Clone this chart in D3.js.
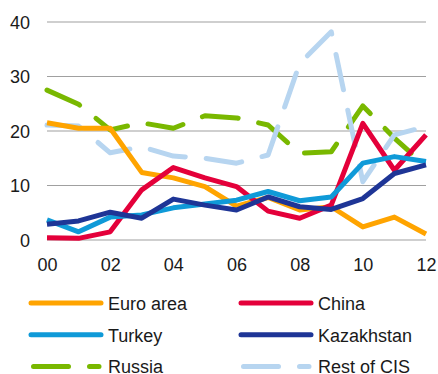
<!DOCTYPE html>
<html>
<head>
<meta charset="utf-8">
<script src="https://cdn.jsdelivr.net/npm/d3@7"></script>
<style>
  html, body { margin: 0; padding: 0; background: #fff; }
  svg { display: block; font-family: "Liberation Sans", Arial, sans-serif; }
</style>
</head>
<body>
<svg id="chart" width="438" height="374"></svg>
<script>
// Years 2000–2012
const years = [2000, 2001, 2002, 2003, 2004, 2005, 2006, 2007, 2008, 2009, 2010, 2011, 2012];
const xTickLabels = ["00", "02", "04", "06", "08", "10", "12"];
const yTicks = [0, 10, 20, 30, 40];

// Series values (per cent)
const euroArea   = [21.5, 20.5, 20.5, 12.4, 11.4, 9.8, 6.2, 7.8, 5.5, 6.1, 2.4, 4.2, 1.1];
const china      = [0.4, 0.3, 1.5, 9.2, 13.3, 11.4, 9.8, 5.3, 4.0, 6.4, 21.4, 12.8, 19.3];
const turkey     = [3.7, 1.5, 4.2, 4.6, 5.9, 6.6, 7.3, 8.9, 7.2, 7.9, 14.1, 15.3, 14.4];
const kazakhstan = [2.9, 3.5, 5.1, 4.0, 7.5, 6.4, 5.5, 7.9, 6.1, 5.6, 7.6, 12.2, 13.8];
const russia     = [27.5, 24.9, 20.2, 21.5, 20.5, 22.8, 22.4, 21.1, 15.9, 16.2, 24.6, 18.7, 13.5];
const restOfCIS  = [21.1, 20.9, 16.0, 17.1, 15.4, 15.0, 14.1, 15.6, 32.4, 38.2, 10.7, 19.3, 20.8];

const seriesNames  = ["Euro area", "China", "Turkey", "Kazakhstan", "Russia", "Rest of CIS"];
const seriesValues = [euroArea, china, turkey, kazakhstan, russia, restOfCIS];
const seriesColors = ["#FFA400", "#E4003A", "#0F9AD8", "#1E3596", "#79B800", "#B7D5F0"];
const seriesDashed = [false, false, false, false, true, true];

const svg = d3.select("#chart");
const x = d3.scaleLinear().domain([2000, 2012]).range([47, 426]);
const y = d3.scaleLinear().domain([0, 40]).range([240, 22]);

// Horizontal gridlines
svg.append("g")
  .selectAll("line")
  .data(yTicks)
  .join("line")
  .attr("x1", 47).attr("x2", 426)
  .attr("y1", d => y(d)).attr("y2", d => y(d))
  .attr("stroke", "#a0a0a0").attr("stroke-width", 1.2);

// Y axis labels
const yAxis = d3.axisLeft(y).tickValues(yTicks).tickSize(0).tickPadding(0).tickFormat(d3.format("d"));
const gy = svg.append("g").attr("transform", "translate(30,0)").call(yAxis);
gy.select(".domain").remove();
gy.selectAll("text").attr("font-size", 18).attr("fill", "#1a1a1a")
  .attr("font-family", "'Liberation Sans', Arial, sans-serif").attr("dy", "0.36em");

// X axis labels
const xAxis = d3.axisBottom(x).tickValues(d3.range(2000, 2013, 2)).tickSize(0).tickPadding(0)
  .tickFormat((d, i) => xTickLabels[i]);
const gx = svg.append("g").attr("transform", "translate(0,258)").call(xAxis);
gx.select(".domain").remove();
gx.selectAll("text").attr("font-size", 18).attr("fill", "#1a1a1a")
  .attr("font-family", "'Liberation Sans', Arial, sans-serif").attr("dy", "0.72em");

// Lines
const line = d3.line().x((d, i) => x(years[i])).y(d => y(d));
const order = [4, 5, 0, 1, 2, 3];
svg.append("g")
  .selectAll("path")
  .data(order)
  .join("path")
  .attr("d", k => line(seriesValues[k]))
  .attr("fill", "none")
  .attr("stroke", k => seriesColors[k])
  .attr("stroke-width", 5)
  .attr("stroke-linejoin", "round")
  .attr("stroke-linecap", k => seriesDashed[k] ? "round" : "butt")
  .attr("stroke-dasharray", k => seriesDashed[k] ? "36 21" : null);

// Legend, two columns by three rows
const legend = svg.append("g");
const legendItems = legend.selectAll("g")
  .data(seriesNames.map((n, i) => i))
  .join("g")
  .attr("transform", i => `translate(${i % 2 === 0 ? 31 : 241},${303 + Math.floor(i / 2) * 31.7})`);
legendItems.append("line")
  .attr("x1", i => seriesDashed[i] ? 2.5 : 0)
  .attr("x2", i => seriesDashed[i] ? 68 : 70)
  .attr("y1", 0).attr("y2", 0)
  .attr("stroke", i => seriesColors[i])
  .attr("stroke-width", 5)
  .attr("stroke-linecap", "round")
  .attr("stroke-dasharray", i => seriesDashed[i] ? "35 21" : null);
legendItems.append("text")
  .attr("x", 77).attr("y", 7)
  .attr("font-size", 18).attr("fill", "#1a1a1a")
  .text(i => seriesNames[i]);
</script>
</body>
</html>
